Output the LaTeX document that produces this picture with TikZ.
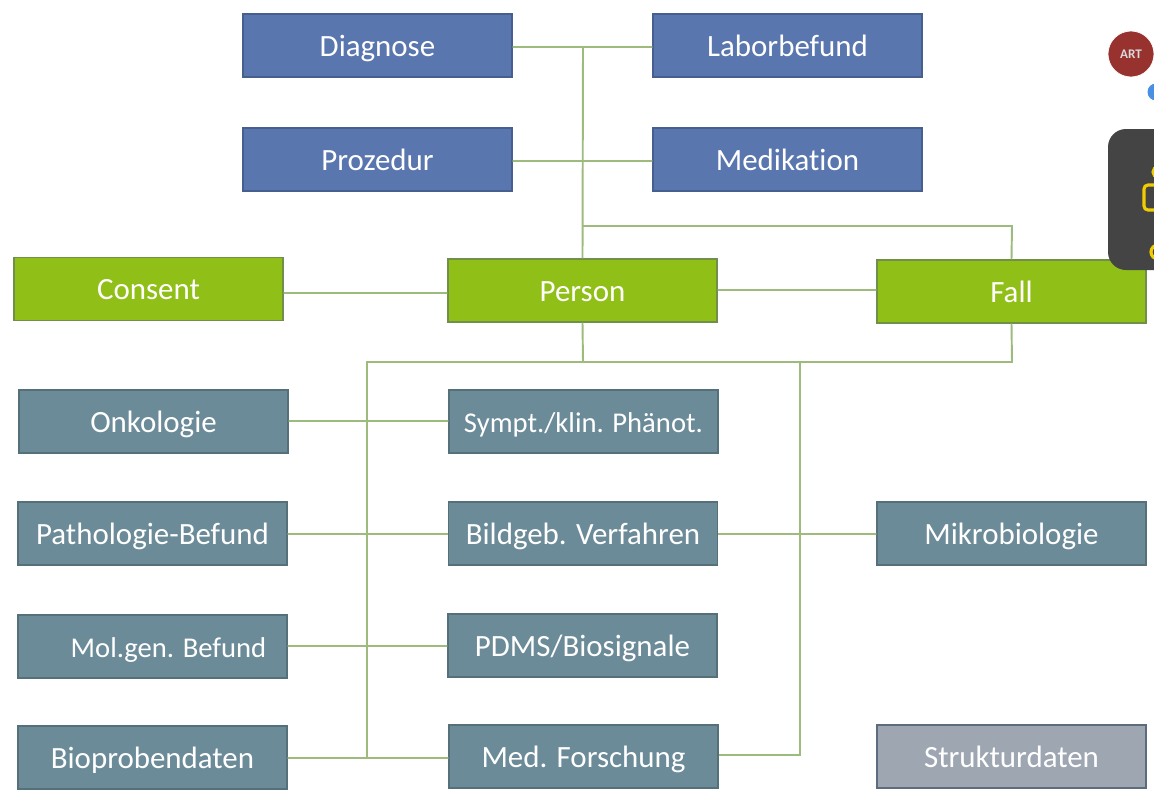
\documentclass[tikz,border=0pt]{standalone}
\usepackage{fontspec}
\setmainfont{Carlito}[Ligatures=NoCommon]
\definecolor{boxBlue}{HTML}{5A76AE}
\definecolor{edgeBlue}{HTML}{465F8E}
\definecolor{boxGreen}{HTML}{90C018}
\definecolor{edgeGreen}{HTML}{6F8F4A}
\definecolor{boxTeal}{HTML}{6C8B98}
\definecolor{edgeTeal}{HTML}{557078}
\definecolor{boxGrey}{HTML}{9EA6B2}
\definecolor{edgeGrey}{HTML}{5C6C7C}
\definecolor{lineGreen}{HTML}{9DBB7C}
\definecolor{badgeRed}{HTML}{98322F}
\definecolor{panelDark}{HTML}{444444}
\definecolor{iconYellow}{HTML}{F0CC00}
\definecolor{dotBlue}{HTML}{4A90E2}

\begin{document}
\begin{tikzpicture}[%%
  x=0.02cm,y=-0.02cm,%%
  baseBox/.style={minimum width=5.38cm,minimum height=1.26cm,inner sep=0pt,%%
    line width=0.8pt,text=white,text height=0.51cm,text depth=0.09cm,%%
    font=\fontsize{17.6}{20}\selectfont},%%
  blueBox/.style={baseBox,fill=boxBlue,draw=edgeBlue},%%
  greenBox/.style={baseBox,fill=boxGreen,draw=edgeGreen},%%
  tealBox/.style={baseBox,fill=boxTeal,draw=edgeTeal},%%
  smallBox/.style={tealBox,font=\fontsize{16.3}{20}\selectfont},%%
  greyBox/.style={baseBox,fill=boxGrey,draw=edgeGrey},%%
  lineStyle/.style={-,draw=lineGreen,line width=1.1pt}
]
\useasboundingbox (0,0) rectangle (1154,792);
%%
%%
%% Coordinates where the lines branch.
\coordinate (topJoin) at (583,47);
\coordinate (midJoin) at (583,161);
\coordinate (fallJoin) at (583,226);
\coordinate (fallCorner) at (1012,226);
\coordinate (consentJoin) at (365,293);
\coordinate (personJoin) at (800,290);
\coordinate (busPerson) at (583,362);
\coordinate (busLeft) at (367,362);
\coordinate (busRight) at (800,362);
\coordinate (busFall) at (1012,362);
\coordinate (onkoJoin) at (367,421);
\coordinate (bildJoin) at (367,534);
\coordinate (molJoin) at (367,646);
\coordinate (leftEnd) at (367,758);
\coordinate (rightEnd) at (800,755);
%%
%%
%% Boxes.
\node (Diagnose) at (377.5,45.5) [blueBox] {Diagnose};
\node (Laborbefund) at (787.5,45.5) [blueBox] {Laborbefund};
\node (Prozedur) at (377.5,159.5) [blueBox] {Prozedur};
\node (Medikation) at (787.5,159.5) [blueBox] {Medikation};
\node (Consent) at (148.5,289) [greenBox] {Consent};
\node (Person) at (582.5,290.5) [greenBox] {Person};
\node (Fall) at (1011.5,291.5) [greenBox] {Fall};
\node (Onkologie) at (153.5,421.5) [tealBox] {Onkologie};
\node (Sympt) at (583.5,421.5) [smallBox] {Sympt./klin. Phänot.};
\node (Pathologie) at (152.5,533.5) [tealBox] {Pathologie-Befund};
\node (Bildgeb) at (583,533.5) [tealBox] {Bildgeb. Verfahren};
\node (Mikrobiologie) at (1011.5,533.5) [tealBox] {Mikrobiologie};
\node (Molgen) at (152.5,646.5) [smallBox] {\hspace{0.64cm}Mol.gen. Befund};
\node (PDMS) at (582.5,645.5) [tealBox] {PDMS/Biosignale};
\node (Bioproben) at (152.5,757.5) [tealBox] {Bioprobendaten};
\node (Forschung) at (583.5,756.5) [tealBox] {Med. Forschung};
\node (Strukturdaten) at (1011.5,756.5) [greyBox] {Strukturdaten};
%%
%% Upper group of boxes and the trunk down to Person.
\draw[lineStyle] (Diagnose.east |- topJoin) -- ([yshift=0.01pt]Laborbefund.west |- topJoin);
\draw[lineStyle] (Prozedur.east |- midJoin) -- ([yshift=0.01pt]Medikation.west |- midJoin);
\draw[lineStyle] (topJoin) -- (Person.north);
\draw[lineStyle] (fallJoin) -- (fallCorner) -- (Fall.north);
%% Middle row.
\draw[lineStyle] (Consent.east |- consentJoin) -- ([yshift=0.01pt]Person.west |- consentJoin);
\draw[lineStyle] (Person.east |- personJoin) -- ([yshift=0.01pt]Fall.west |- personJoin);
%% Bus below Person and Fall.
\draw[lineStyle] (Person.south) -- (busPerson);
\draw[lineStyle] (Fall.south) -- (busFall) -- (busLeft) -- (leftEnd);
\draw[lineStyle] (busRight) -- (rightEnd) -- (Forschung.east |- rightEnd);
%% Lower rows.
\draw[lineStyle] (Onkologie.east |- onkoJoin) -- ([yshift=0.01pt]Sympt.west |- onkoJoin);
\draw[lineStyle] (Pathologie.east |- bildJoin) -- ([yshift=0.01pt]Bildgeb.west |- bildJoin);
\draw[lineStyle] (Bildgeb.east |- bildJoin) -- ([yshift=0.01pt]Mikrobiologie.west |- bildJoin);
\draw[lineStyle] (Molgen.east |- molJoin) -- ([yshift=0.01pt]PDMS.west |- molJoin);
\draw[lineStyle] (Bioproben.east |- leftEnd) -- ([yshift=0.01pt]Forschung.west |- leftEnd);
%%
%% Overlay at the right edge, cut off by the page.
\begin{scope}
\clip (0,0) rectangle (1154,792);
\node (Badge) at (1131,54) [circle,fill=badgeRed,draw=white,minimum size=0.92cm,inner sep=0pt,%%
  text=white!70!gray,font=\fontsize{7.5}{8}\selectfont\bfseries] {ART};
\fill[dotBlue] (1156,92) circle (0.17cm);
\fill[panelDark,rounded corners=0.36cm] (1108,129) rectangle (1190,270);
\draw[iconYellow,line width=1.8pt,rounded corners=0.08cm] (1170,185) -- (1144,185) -- (1144,210) -- (1170,210);
\draw[iconYellow,line width=1.8pt] (1158,172) circle (0.1cm);
\draw[iconYellow,line width=1.8pt] (1158,252) circle (0.14cm);
\end{scope}
\end{tikzpicture}
\end{document}
